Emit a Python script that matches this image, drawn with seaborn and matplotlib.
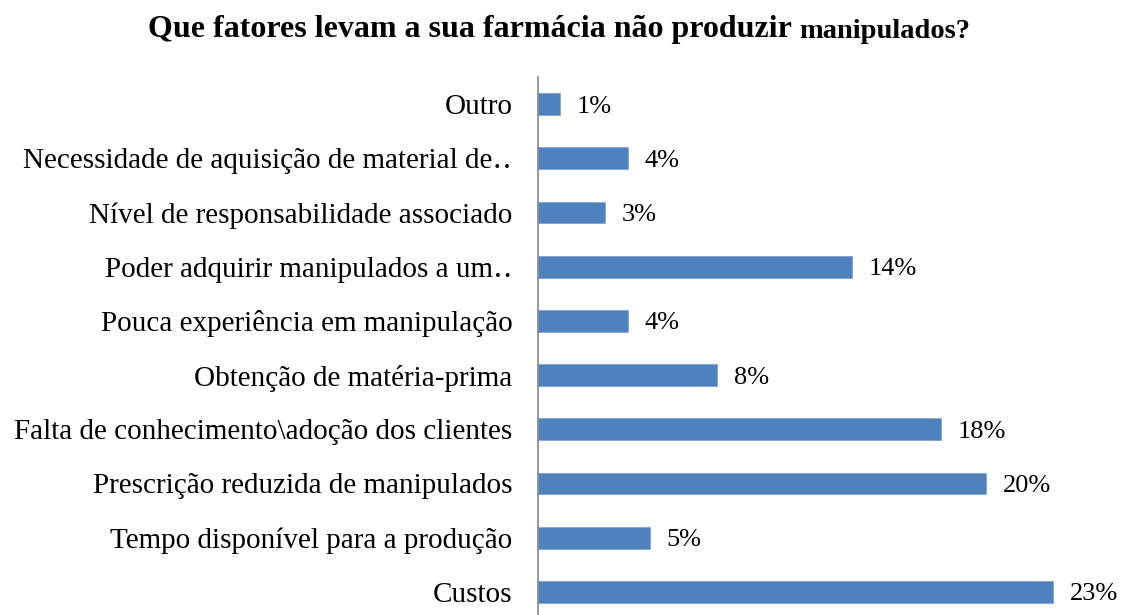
import matplotlib
matplotlib.use("Agg")
import matplotlib.pyplot as plt
import seaborn as sns
import pandas as pd

categories = [
    "Outro",
    "Necessidade de aquisição de material de\u2025",
    "Nível de responsabilidade associado",
    "Poder adquirir manipulados a um\u2025",
    "Pouca experiência em manipulação",
    "Obtenção de matéria-prima",
    "Falta de conhecimento\\adoção dos clientes",
    "Prescrição reduzida de manipulados",
    "Tempo disponível para a produção",
    "Custos",
]
values = [1, 4, 3, 14, 4, 8, 18, 20, 5, 23]

sns.set_theme(style="white")
plt.rcParams["font.family"] = ["Liberation Serif", "DejaVu Serif"]
plt.rcParams["text.color"] = "black"

df = pd.DataFrame({"cat": categories, "val": values})

W, H = 1124, 615
fig = plt.figure(figsize=(W / 100, H / 100), dpi=100)
left = 538 / W
top_px, bot_px = 77, 619
ax = fig.add_axes([left, (H - bot_px) / H, 560 / W, (bot_px - top_px) / H])

sns.barplot(data=df, y="cat", x="val", orient="h", color="#4F81BD",
            saturation=1, width=0.4, ax=ax, edgecolor="#7FA3D0", linewidth=0.6)

ax.set_xlim(0, 25)
ax.set_ylim(9.5, -0.5)
ax.set_xlabel("")
ax.set_ylabel("")
ax.set_xticks([])
ax.tick_params(axis="y", length=0, pad=18.5, labelsize=21, labelcolor="black")
for s in ["top", "right", "bottom"]:
    ax.spines[s].set_visible(False)
ax.spines["left"].set_color("#868686")
ax.spines["left"].set_linewidth(1.2)

for c in ax.containers:
    txts = ax.bar_label(c, labels=[f"{v}%" for v in values], padding=12,
                        fontsize=19, color="black")
    for t in txts:
        t.set_va("center_baseline")

t1 = fig.text(0.1316, 1 - 37 / H, "Que fatores levam a sua farmácia não produzir ",
              fontsize=23, fontweight="bold", ha="left", va="baseline", color="black")
fig.canvas.draw()
ax.annotate("manipulados?", xy=(1, 0), xycoords=t1, fontsize=20.5, fontweight="bold",
            ha="left", va="bottom", annotation_clip=False, color="black")

fig.savefig("out.png", dpi=100)
